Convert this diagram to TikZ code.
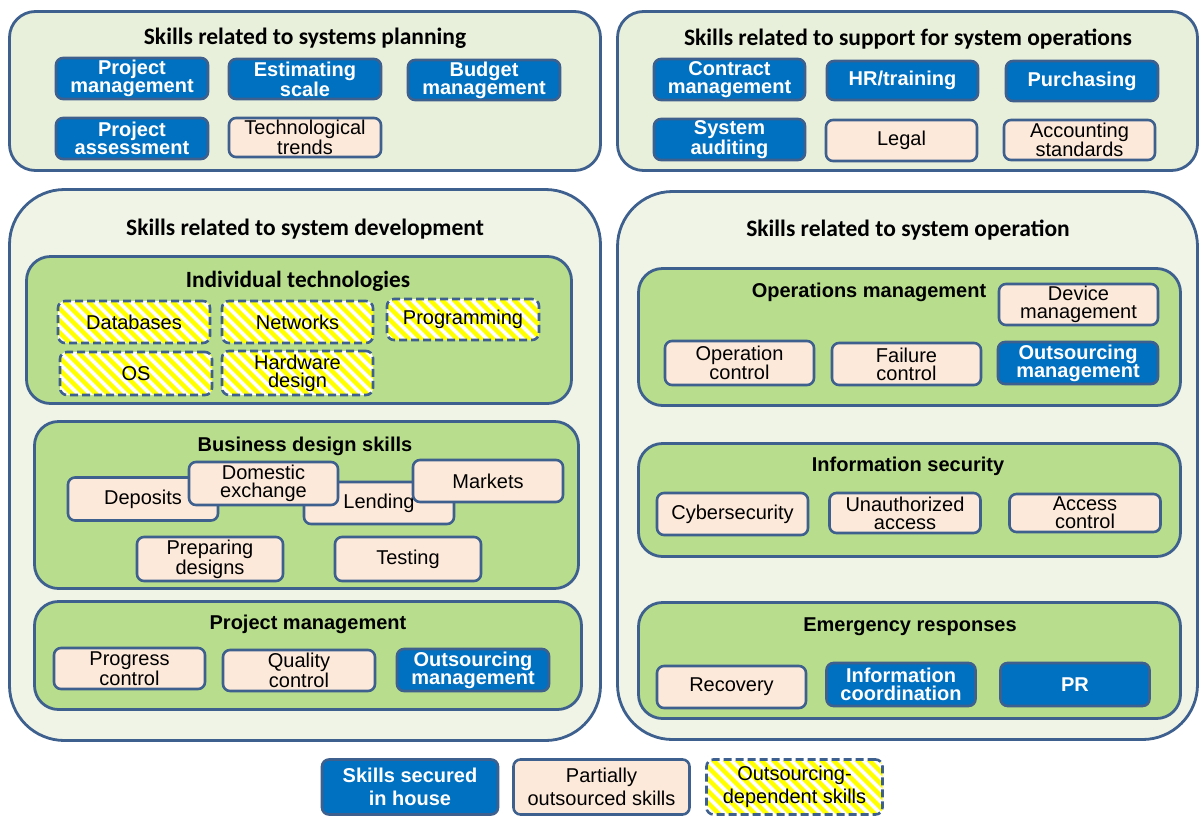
\documentclass[tikz,border=0pt]{standalone}
\usepackage{fontspec}
\setmainfont{Liberation Sans}
\newfontfamily\headfont{Carlito}

\definecolor{edgec}{RGB}{62,96,142}
\definecolor{inhouse}{RGB}{0,112,192}
\definecolor{peach}{RGB}{253,233,217}
\definecolor{subgreen}{RGB}{184,221,141}
\definecolor{toppanelc}{RGB}{232,239,218}
\definecolor{bigpanelc}{RGB}{239,244,231}
\definecolor{stripec}{RGB}{255,255,0}

\newcommand\bodysize{\fontsize{20}{18}\selectfont}
\newcommand\skillbox[7]{\node[#2, minimum width=#5pt, minimum height=#6pt] (#1) at (#3,#4) {#7};}

\tikzset{
  panelbase/.style={draw=edgec, line width=2.8pt, inner sep=0pt},
  toppanel/.style={panelbase, fill=toppanelc, rounded corners=26pt},
  bigpanel/.style={panelbase, fill=bigpanelc, rounded corners=55pt},
  subpanel/.style={panelbase, fill=subgreen, rounded corners=24pt},
  headtitle/.style={font=\headfont\bfseries\fontsize{23.5}{23.5}\selectfont, inner sep=0pt},
  subtitle/.style={font=\bfseries\fontsize{20}{20}\selectfont, inner sep=0pt},
  subtitlehead/.style={font=\headfont\bfseries\fontsize{23.3}{23.3}\selectfont, inner sep=0pt},
  skillbase/.style={draw=edgec, line width=2.6pt, rounded corners=7pt, align=center,
    inner sep=0pt, font=\bodysize},
  own/.style={skillbase, fill=inhouse, text=white, font=\bodysize\bfseries},
  part/.style={skillbase, fill=peach, text=black},
  dep/.style={skillbase, fill=white, text=black, dash pattern=on 8pt off 4pt,
    path picture={
      \foreach \k in {-6,...,17}{
        \draw[solid, stripec, line width=4.3pt]
          ([xshift=\k*12pt-6pt]path picture bounding box.north west) -- ++(80pt,-80pt);
      }
    }},
}

\begin{document}
\begin{tikzpicture}[x=1pt,y=-1pt]
\useasboundingbox (0,0) rectangle (1201,817);

% ---------- outer panels ----------
\node[toppanel, minimum width=591pt, minimum height=159pt] (planning) at (305,91) {};
\node[toppanel, minimum width=580pt, minimum height=159pt] (support) at (907.5,91) {};
\node[bigpanel, minimum width=591pt, minimum height=551pt] (devel) at (305,465) {};
\node[bigpanel, minimum width=580pt, minimum height=548pt] (oper) at (907.5,465.5) {};

\node[headtitle] (tplanning) at (305,38) {Skills related to systems planning};
\node[headtitle] (tsupport) at (908,39) {Skills related to support for system operations};
\node[headtitle] (tdevel) at (305,229) {Skills related to system development};
\node[headtitle] (toper) at (908,230) {Skills related to system operation};

% ---------- inner panels ----------
\node[subpanel, minimum width=545pt, minimum height=147pt] (indiv) at (299,330) {};
\node[subpanel, minimum width=544pt, minimum height=167pt] (business) at (306.5,505) {};
\node[subpanel, minimum width=547pt, minimum height=108pt] (projm) at (308,655.5) {};
\node[subpanel, minimum width=542pt, minimum height=137pt] (opsm) at (909.5,337) {};
\node[subpanel, minimum width=542pt, minimum height=113pt] (infosec) at (909.5,500) {};
\node[subpanel, minimum width=542pt, minimum height=116pt] (emerg) at (909.5,660.5) {};

\node[subtitlehead] (tindiv) at (298,281) {Individual technologies};
\node[subtitle] (tbusiness) at (305,446) {Business design skills};
\node[subtitle] (tprojm) at (308,624) {Project management};
\node[subtitle] (topsm) at (869,292) {Operations management};
\node[subtitle] (tinfosec) at (908,466) {Information security};
\node[subtitle] (temerg) at (910,627) {Emergency responses};

% ---------- systems planning ----------
\skillbox{pmgmt}{own}{132}{78.5}{152}{41}{Project\\management}
\skillbox{estim}{own}{305}{79}{152}{40}{Estimating\\scale}
\skillbox{budget}{own}{484}{80}{152}{40}{Budget\\management}
\skillbox{passess}{own}{132}{138.5}{152}{41}{Project\\assessment}
\skillbox{techtr}{part}{305}{137.5}{152}{39}{Technological\\trends}

% ---------- support for system operations ----------
\skillbox{contract}{own}{729.5}{79.5}{151}{41}{Contract\\management}
\skillbox{hrtrain}{own}{902.5}{80.5}{151}{39}{HR/training}
\skillbox{purch}{own}{1082}{81}{152}{40}{Purchasing}
\skillbox{sysaud}{own}{729.5}{139.5}{151}{41}{System\\auditing}
\skillbox{legal}{part}{901.5}{140.5}{151}{41}{Legal}
\skillbox{acctstd}{part}{1079.5}{140}{151}{40}{Accounting\\standards}

% ---------- individual technologies ----------
\skillbox{dbs}{dep}{134}{322}{152}{42}{Databases}
\skillbox{nets}{dep}{297.5}{322}{151}{42}{Networks}
\skillbox{prog}{dep}{463}{319.5}{152}{41}{Programming}
\skillbox{opsys}{dep}{136}{373.5}{152}{43}{OS}
\skillbox{hwdes}{dep}{297.5}{373}{151}{44}{Hardware\\design}

% ---------- business design skills ----------
\skillbox{deposits}{part}{143}{499}{150}{43}{Deposits}
\skillbox{lending}{part}{379}{503}{150}{42}{Lending}
\skillbox{domex}{part}{263.5}{483.5}{149}{43}{Domestic\\exchange}
\skillbox{markets}{part}{488}{481}{150}{42}{Markets}
\skillbox{prepdes}{part}{210}{559}{146}{44}{Preparing\\designs}
\skillbox{testing}{part}{408}{559}{146}{44}{Testing}

% ---------- project management ----------
\skillbox{progress}{part}{129.5}{668.5}{151}{41}{Progress\\control}
\skillbox{quality}{part}{299}{670.5}{152}{41}{Quality\\control}
\skillbox{outdev}{own}{473}{670}{152}{42}{Outsourcing\\management}

% ---------- operations management ----------
\skillbox{device}{part}{1078.5}{304.5}{159}{41}{Device\\management}
\skillbox{opctl}{part}{739.5}{363}{149}{44}{Operation\\control}
\skillbox{failctl}{part}{906.5}{364}{149}{42}{Failure\\control}
\skillbox{outops}{own}{1078}{363}{160}{42}{Outsourcing\\management}

% ---------- information security ----------
\skillbox{cyber}{part}{732.5}{514}{151}{42}{Cybersecurity}
\skillbox{unauth}{part}{905}{513}{151}{40}{Unauthorized\\access}
\skillbox{access}{part}{1085}{513}{151}{38}{Access\\control}

% ---------- emergency responses ----------
\skillbox{recovery}{part}{731.5}{687}{149}{42}{Recovery}
\skillbox{infocoord}{own}{901}{684.5}{149}{43}{Information\\coordination}
\skillbox{pr}{own}{1075}{684.5}{149}{43}{PR}

% ---------- legend ----------
\node[own, minimum width=176pt, minimum height=55pt, font=\fontsize{20}{23}\selectfont\bfseries]
  (leginhouse) at (410,787) {Skills secured\\in house};
\node[part, minimum width=176pt, minimum height=55pt, font=\fontsize{20}{23}\selectfont]
  (legpart) at (601.5,787) {Partially\\outsourced skills};
\node[dep, minimum width=176pt, minimum height=55pt, font=\fontsize{20}{23}\selectfont]
  (legdep) at (794.5,787) {Outsourcing-\\dependent skills};
\end{tikzpicture}
\end{document}
